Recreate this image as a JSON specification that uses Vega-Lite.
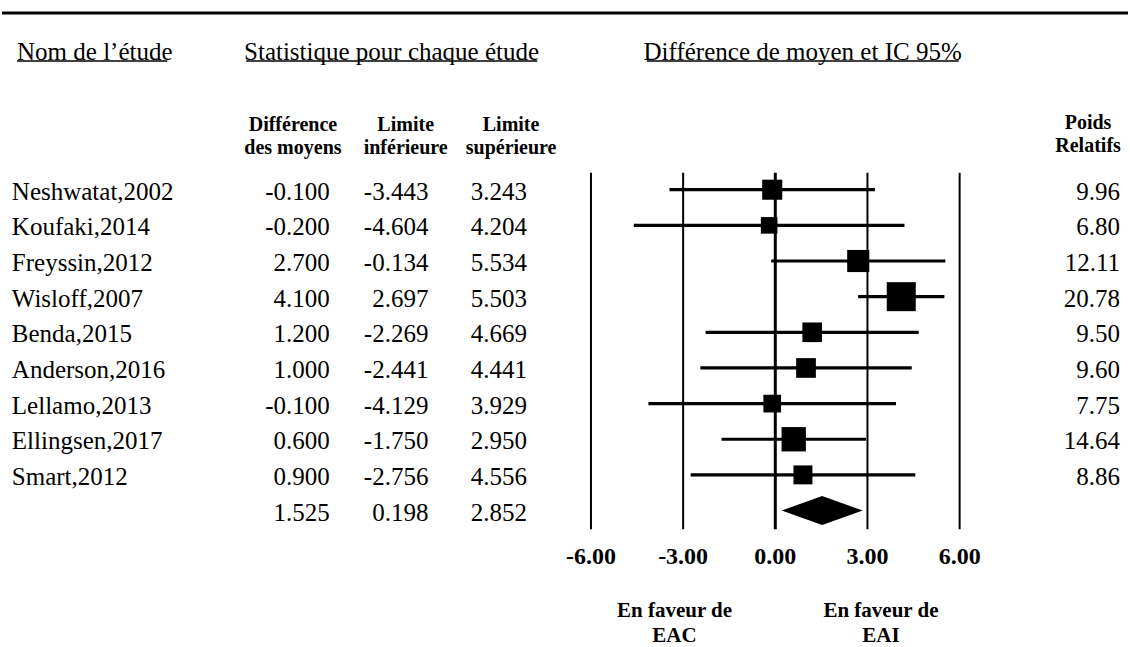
{
  "$schema": "https://vega.github.io/schema/vega-lite/v6.json",
  "width": 1130,
  "height": 647,
  "autosize": {"type": "fit", "contains": "padding"},
  "padding": 0,
  "background": "white",
  "config": {
    "view": {"stroke": null},
    "locale": {"number": {"decimal": ".", "thousands": ",", "grouping": [3], "currency": ["$", ""], "minus": "-"}},
    "text": {"font": "Liberation Serif", "fontSize": 25, "color": "black", "baseline": "middle", "dy": 2}
  },
  "datasets": {
    "rows": [
      {"row": 1, "type": "study", "study": "Neshwatat,2002", "diff": -0.1, "lo": -3.443, "hi": 3.243, "weight": 9.96},
      {"row": 2, "type": "study", "study": "Koufaki,2014", "diff": -0.2, "lo": -4.604, "hi": 4.204, "weight": 6.80},
      {"row": 3, "type": "study", "study": "Freyssin,2012", "diff": 2.7, "lo": -0.134, "hi": 5.534, "weight": 12.11},
      {"row": 4, "type": "study", "study": "Wisloff,2007", "diff": 4.1, "lo": 2.697, "hi": 5.503, "weight": 20.78},
      {"row": 5, "type": "study", "study": "Benda,2015", "diff": 1.2, "lo": -2.269, "hi": 4.669, "weight": 9.50},
      {"row": 6, "type": "study", "study": "Anderson,2016", "diff": 1.0, "lo": -2.441, "hi": 4.441, "weight": 9.60},
      {"row": 7, "type": "study", "study": "Lellamo,2013", "diff": -0.1, "lo": -4.129, "hi": 3.929, "weight": 7.75},
      {"row": 8, "type": "study", "study": "Ellingsen,2017", "diff": 0.6, "lo": -1.75, "hi": 2.95, "weight": 14.64},
      {"row": 9, "type": "study", "study": "Smart,2012", "diff": 0.9, "lo": -2.756, "hi": 4.556, "weight": 8.86},
      {"row": 10, "type": "summary", "study": "", "diff": 1.525, "lo": 0.198, "hi": 2.852, "weight": null}
    ],
    "ticks": [
      {"tick": -6}, {"tick": -3}, {"tick": 0}, {"tick": 3}, {"tick": 6}
    ]
  },
  "layer": [
    {
      "data": {"values": [{}]},
      "mark": {"type": "rule", "strokeWidth": 3, "color": "black"},
      "encoding": {
        "x": {"datum": -25.17, "type": "quantitative", "scale": {"domain": [-25.17, 11.48], "nice": false, "zero": false}, "axis": null},
        "x2": {"datum": 11.48},
        "y": {"datum": -3.958, "type": "quantitative", "scale": {"domain": [-4.322, 13.8], "nice": false, "zero": false, "reverse": true}, "axis": null}
      }
    },
    {
      "data": {"values": [{}]},
      "mark": {"type": "rule", "strokeWidth": 1.5, "color": "black"},
      "encoding": {
        "x": {"datum": -24.68, "type": "quantitative", "scale": {"domain": [-25.17, 11.48], "nice": false, "zero": false}, "axis": null},
        "x2": {"datum": -19.79},
        "y": {"datum": -2.613, "type": "quantitative", "scale": {"domain": [-4.322, 13.8], "nice": false, "zero": false, "reverse": true}, "axis": null}
      }
    },
    {
      "data": {"values": [{}]},
      "mark": {"type": "rule", "strokeWidth": 1.5, "color": "black"},
      "encoding": {
        "x": {"datum": -17.22, "type": "quantitative", "scale": {"domain": [-25.17, 11.48], "nice": false, "zero": false}, "axis": null},
        "x2": {"datum": -7.75},
        "y": {"datum": -2.613, "type": "quantitative", "scale": {"domain": [-4.322, 13.8], "nice": false, "zero": false, "reverse": true}, "axis": null}
      }
    },
    {
      "data": {"values": [{}]},
      "mark": {"type": "rule", "strokeWidth": 1.5, "color": "black"},
      "encoding": {
        "x": {"datum": -4.18, "type": "quantitative", "scale": {"domain": [-25.17, 11.48], "nice": false, "zero": false}, "axis": null},
        "x2": {"datum": 5.97},
        "y": {"datum": -2.613, "type": "quantitative", "scale": {"domain": [-4.322, 13.8], "nice": false, "zero": false, "reverse": true}, "axis": null}
      }
    },
    {
      "data": {"values": [{}]},
      "mark": {"type": "text", "align": "left", "fontSize": 25},
      "encoding": {
        "x": {"datum": -24.68, "type": "quantitative", "scale": {"domain": [-25.17, 11.48], "nice": false, "zero": false}, "axis": null},
        "y": {"datum": -2.922, "type": "quantitative", "scale": {"domain": [-4.322, 13.8], "nice": false, "zero": false, "reverse": true}, "axis": null},
        "text": {"value": "Nom de l’étude"}
      }
    },
    {
      "data": {"values": [{}]},
      "mark": {"type": "text", "align": "center", "fontSize": 25},
      "encoding": {
        "x": {"datum": -12.49, "type": "quantitative", "scale": {"domain": [-25.17, 11.48], "nice": false, "zero": false}, "axis": null},
        "y": {"datum": -2.922, "type": "quantitative", "scale": {"domain": [-4.322, 13.8], "nice": false, "zero": false, "reverse": true}, "axis": null},
        "text": {"value": "Statistique pour chaque étude"}
      }
    },
    {
      "data": {"values": [{}]},
      "mark": {"type": "text", "align": "center", "fontSize": 25},
      "encoding": {
        "x": {"datum": 0.89, "type": "quantitative", "scale": {"domain": [-25.17, 11.48], "nice": false, "zero": false}, "axis": null},
        "y": {"datum": -2.922, "type": "quantitative", "scale": {"domain": [-4.322, 13.8], "nice": false, "zero": false, "reverse": true}, "axis": null},
        "text": {"value": "Différence de moyen et IC 95%"}
      }
    },
    {
      "data": {"values": [{}]},
      "mark": {"type": "text", "align": "center", "fontSize": 20, "fontWeight": "bold", "lineHeight": 23},
      "encoding": {
        "x": {"datum": -15.7, "type": "quantitative", "scale": {"domain": [-25.17, 11.48], "nice": false, "zero": false}, "axis": null},
        "y": {"datum": -0.86, "type": "quantitative", "scale": {"domain": [-4.322, 13.8], "nice": false, "zero": false, "reverse": true}, "axis": null},
        "text": {"value": ["Différence", "des moyens"]}
      }
    },
    {
      "data": {"values": [{}]},
      "mark": {"type": "text", "align": "center", "fontSize": 20, "fontWeight": "bold", "lineHeight": 23},
      "encoding": {
        "x": {"datum": -12.03, "type": "quantitative", "scale": {"domain": [-25.17, 11.48], "nice": false, "zero": false}, "axis": null},
        "y": {"datum": -0.86, "type": "quantitative", "scale": {"domain": [-4.322, 13.8], "nice": false, "zero": false, "reverse": true}, "axis": null},
        "text": {"value": ["Limite", "inférieure"]}
      }
    },
    {
      "data": {"values": [{}]},
      "mark": {"type": "text", "align": "center", "fontSize": 20, "fontWeight": "bold", "lineHeight": 23},
      "encoding": {
        "x": {"datum": -8.6, "type": "quantitative", "scale": {"domain": [-25.17, 11.48], "nice": false, "zero": false}, "axis": null},
        "y": {"datum": -0.86, "type": "quantitative", "scale": {"domain": [-4.322, 13.8], "nice": false, "zero": false, "reverse": true}, "axis": null},
        "text": {"value": ["Limite", "supérieure"]}
      }
    },
    {
      "data": {"values": [{}]},
      "mark": {"type": "text", "align": "center", "fontSize": 20, "fontWeight": "bold", "lineHeight": 23},
      "encoding": {
        "x": {"datum": 10.18, "type": "quantitative", "scale": {"domain": [-25.17, 11.48], "nice": false, "zero": false}, "axis": null},
        "y": {"datum": -0.93, "type": "quantitative", "scale": {"domain": [-4.322, 13.8], "nice": false, "zero": false, "reverse": true}, "axis": null},
        "text": {"value": ["Poids", "Relatifs"]}
      }
    },
    {
      "data": {"name": "ticks"},
      "mark": {"type": "rule", "color": "black"},
      "encoding": {
        "x": {"field": "tick", "type": "quantitative", "scale": {"domain": [-25.17, 11.48], "nice": false, "zero": false}, "axis": null},
        "y": {"datum": 0.524, "type": "quantitative", "scale": {"domain": [-4.322, 13.8], "nice": false, "zero": false, "reverse": true}, "axis": null},
        "y2": {"datum": 10.524},
        "strokeWidth": {"condition": {"test": "datum.tick === 0", "value": 3}, "value": 2}
      }
    },
    {
      "data": {"name": "ticks"},
      "mark": {"type": "text", "align": "center", "fontSize": 24, "fontWeight": "bold"},
      "encoding": {
        "x": {"field": "tick", "type": "quantitative", "scale": {"domain": [-25.17, 11.48], "nice": false, "zero": false}, "axis": null},
        "y": {"datum": 11.25, "type": "quantitative", "scale": {"domain": [-4.322, 13.8], "nice": false, "zero": false, "reverse": true}, "axis": null},
        "text": {"field": "tick", "type": "quantitative", "format": ".2f"}
      }
    },
    {
      "data": {"values": [{}]},
      "mark": {"type": "text", "align": "center", "fontSize": 21, "fontWeight": "bold", "lineHeight": 25},
      "encoding": {
        "x": {"datum": -3.28, "type": "quantitative", "scale": {"domain": [-25.17, 11.48], "nice": false, "zero": false}, "axis": null},
        "y": {"datum": 12.77, "type": "quantitative", "scale": {"domain": [-4.322, 13.8], "nice": false, "zero": false, "reverse": true}, "axis": null},
        "text": {"value": ["En faveur de", "EAC"]}
      }
    },
    {
      "data": {"values": [{}]},
      "mark": {"type": "text", "align": "center", "fontSize": 21, "fontWeight": "bold", "lineHeight": 25},
      "encoding": {
        "x": {"datum": 3.44, "type": "quantitative", "scale": {"domain": [-25.17, 11.48], "nice": false, "zero": false}, "axis": null},
        "y": {"datum": 12.77, "type": "quantitative", "scale": {"domain": [-4.322, 13.8], "nice": false, "zero": false, "reverse": true}, "axis": null},
        "text": {"value": ["En faveur de", "EAI"]}
      }
    },
    {
      "data": {"name": "rows"},
      "transform": [{"filter": "datum.type === 'study'"}],
      "mark": {"type": "rule", "strokeWidth": 3.2, "color": "black"},
      "encoding": {
        "x": {"field": "lo", "type": "quantitative", "scale": {"domain": [-25.17, 11.48], "nice": false, "zero": false}, "axis": null},
        "x2": {"field": "hi"},
        "y": {"field": "row", "type": "quantitative", "scale": {"domain": [-4.322, 13.8], "nice": false, "zero": false, "reverse": true}, "axis": null}
      }
    },
    {
      "data": {"name": "rows"},
      "transform": [{"filter": "datum.type === 'study'"}],
      "mark": {"type": "point", "shape": "square", "filled": true, "color": "black", "opacity": 1, "strokeWidth": 0},
      "encoding": {
        "x": {"field": "diff", "type": "quantitative", "scale": {"domain": [-25.17, 11.48], "nice": false, "zero": false}, "axis": null},
        "y": {"field": "row", "type": "quantitative", "scale": {"domain": [-4.322, 13.8], "nice": false, "zero": false, "reverse": true}, "axis": null},
        "size": {"field": "weight", "type": "quantitative", "scale": {"domain": [0, 20.78], "range": [0, 841], "zero": true}, "legend": null}
      }
    },
    {
      "data": {"name": "rows"},
      "transform": [{"filter": "datum.type === 'summary'"}],
      "mark": {"type": "point", "shape": "M-1,0L0,-0.358L1,0L0,0.358Z", "filled": true, "color": "black", "opacity": 1, "strokeWidth": 0, "size": 6561},
      "encoding": {
        "x": {"field": "diff", "type": "quantitative", "scale": {"domain": [-25.17, 11.48], "nice": false, "zero": false}, "axis": null},
        "y": {"field": "row", "type": "quantitative", "scale": {"domain": [-4.322, 13.8], "nice": false, "zero": false, "reverse": true}, "axis": null}
      }
    },
    {
      "data": {"name": "rows"},
      "mark": {"type": "text", "align": "left", "fontSize": 25},
      "encoding": {
        "x": {"datum": -24.85, "type": "quantitative", "scale": {"domain": [-25.17, 11.48], "nice": false, "zero": false}, "axis": null},
        "y": {"field": "row", "type": "quantitative", "scale": {"domain": [-4.322, 13.8], "nice": false, "zero": false, "reverse": true}, "axis": null},
        "text": {"field": "study", "type": "nominal"}
      }
    },
    {
      "data": {"name": "rows"},
      "mark": {"type": "text", "align": "right", "fontSize": 25},
      "encoding": {
        "x": {"datum": -14.5, "type": "quantitative", "scale": {"domain": [-25.17, 11.48], "nice": false, "zero": false}, "axis": null},
        "y": {"field": "row", "type": "quantitative", "scale": {"domain": [-4.322, 13.8], "nice": false, "zero": false, "reverse": true}, "axis": null},
        "text": {"field": "diff", "type": "quantitative", "format": ".3f"}
      }
    },
    {
      "data": {"name": "rows"},
      "mark": {"type": "text", "align": "right", "fontSize": 25},
      "encoding": {
        "x": {"datum": -11.29, "type": "quantitative", "scale": {"domain": [-25.17, 11.48], "nice": false, "zero": false}, "axis": null},
        "y": {"field": "row", "type": "quantitative", "scale": {"domain": [-4.322, 13.8], "nice": false, "zero": false, "reverse": true}, "axis": null},
        "text": {"field": "lo", "type": "quantitative", "format": ".3f"}
      }
    },
    {
      "data": {"name": "rows"},
      "mark": {"type": "text", "align": "right", "fontSize": 25},
      "encoding": {
        "x": {"datum": -8.08, "type": "quantitative", "scale": {"domain": [-25.17, 11.48], "nice": false, "zero": false}, "axis": null},
        "y": {"field": "row", "type": "quantitative", "scale": {"domain": [-4.322, 13.8], "nice": false, "zero": false, "reverse": true}, "axis": null},
        "text": {"field": "hi", "type": "quantitative", "format": ".3f"}
      }
    },
    {
      "data": {"name": "rows"},
      "transform": [{"filter": "datum.type === 'study'"}],
      "mark": {"type": "text", "align": "right", "fontSize": 25},
      "encoding": {
        "x": {"datum": 11.22, "type": "quantitative", "scale": {"domain": [-25.17, 11.48], "nice": false, "zero": false}, "axis": null},
        "y": {"field": "row", "type": "quantitative", "scale": {"domain": [-4.322, 13.8], "nice": false, "zero": false, "reverse": true}, "axis": null},
        "text": {"field": "weight", "type": "quantitative", "format": ".2f"}
      }
    }
  ]
}
